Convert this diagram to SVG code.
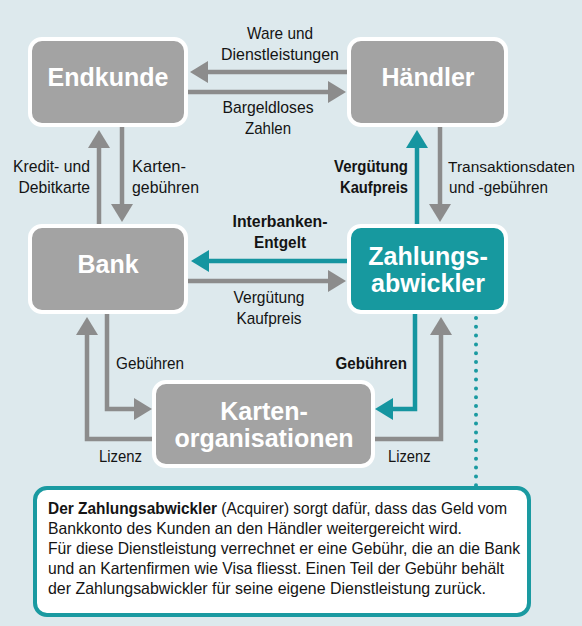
<svg xmlns="http://www.w3.org/2000/svg" width="582" height="626" viewBox="0 0 582 626">
<style>
.bg{fill:#dde9ed}
.box{fill:#a3a3a3;stroke:#ffffff;stroke-width:4}
.tbox{fill:#17999f;stroke:#ffffff;stroke-width:4}
.nt{font-family:"Liberation Sans",Arial,sans-serif;font-weight:bold;font-size:25px;fill:#ffffff;text-anchor:middle}
.lb{font-family:"Liberation Sans",Arial,sans-serif;font-size:17px;fill:#141414}
.lbb{font-family:"Liberation Sans",Arial,sans-serif;font-size:17px;font-weight:bold;fill:#141414}
.c{text-anchor:middle}
.e{text-anchor:end}
.g{fill:none;stroke:#8c8c8c;stroke-width:4.5}
.t{fill:none;stroke:#1595a0;stroke-width:4.5}
.dot{fill:none;stroke:#1a9aa1;stroke-width:4;stroke-linecap:round;stroke-dasharray:0 8.8}
.desc{fill:#ffffff;stroke:#1a9aa1;stroke-width:4}
.dt{font-family:"Liberation Sans",Arial,sans-serif;font-size:16.5px;fill:#141414}
</style>
<defs>
<marker id="ag" markerUnits="userSpaceOnUse" markerWidth="18" markerHeight="22" refX="8" refY="11" orient="auto"><path d="M0,0 L18,11 L0,22 Z" fill="#8c8c8c"/></marker>
<marker id="at" markerUnits="userSpaceOnUse" markerWidth="18" markerHeight="22" refX="8" refY="11" orient="auto"><path d="M0,0 L18,11 L0,22 Z" fill="#1595a0"/></marker>
</defs>
<rect class="bg" x="0" y="0" width="582" height="626"/>
<g id="connectors">
<path class="g" d="M347,72 H200" marker-end="url(#ag)"/>
<path class="g" d="M188,92 H336" marker-end="url(#ag)"/>
<path class="g" d="M99,224 V140" marker-end="url(#ag)"/>
<path class="g" d="M122,127 V212" marker-end="url(#ag)"/>
<path class="t" d="M417,224 V140" marker-end="url(#at)"/>
<path class="g" d="M440,127 V212" marker-end="url(#ag)"/>
<path class="t" d="M347,261 H201" marker-end="url(#at)"/>
<path class="g" d="M188,281 H336" marker-end="url(#ag)"/>
<path class="g" d="M107,313 V409 H142" marker-end="url(#ag)"/>
<path class="g" d="M152,439 H87 V327" marker-end="url(#ag)"/>
<path class="t" d="M415,313 V409 H385" marker-end="url(#at)"/>
<path class="g" d="M375,439 H441 V327" marker-end="url(#ag)"/>
<path class="dot" d="M476,318 V486"/>
<text class="lb c" x="280" y="39" textLength="66" lengthAdjust="spacingAndGlyphs">Ware und</text>
<text class="lb c" x="280" y="60" textLength="118" lengthAdjust="spacingAndGlyphs">Dienstleistungen</text>
<text class="lb c" x="268" y="113" textLength="91" lengthAdjust="spacingAndGlyphs">Bargeldloses</text>
<text class="lb c" x="268" y="134" textLength="46" lengthAdjust="spacingAndGlyphs">Zahlen</text>
<text class="lb e" x="90" y="172" textLength="77" lengthAdjust="spacingAndGlyphs">Kredit- und</text>
<text class="lb e" x="90" y="193" textLength="71.5" lengthAdjust="spacingAndGlyphs">Debitkarte</text>
<text class="lb" x="132" y="172" textLength="54" lengthAdjust="spacingAndGlyphs">Karten-</text>
<text class="lb" x="132" y="193" textLength="67" lengthAdjust="spacingAndGlyphs">gebühren</text>
<text class="lbb e" x="408" y="172" textLength="74" lengthAdjust="spacingAndGlyphs">Vergütung</text>
<text class="lbb e" x="408" y="193" textLength="68" lengthAdjust="spacingAndGlyphs">Kaufpreis</text>
<text class="lb" x="448" y="172" style="font-size:15.5px" textLength="127" lengthAdjust="spacingAndGlyphs">Transaktionsdaten</text>
<text class="lb" x="449" y="193" textLength="99" lengthAdjust="spacingAndGlyphs">und -gebühren</text>
<text class="lbb c" x="280" y="227" textLength="95" lengthAdjust="spacingAndGlyphs">Interbanken-</text>
<text class="lbb c" x="280" y="248" textLength="52" lengthAdjust="spacingAndGlyphs">Entgelt</text>
<text class="lb c" x="269" y="303" textLength="71" lengthAdjust="spacingAndGlyphs">Vergütung</text>
<text class="lb c" x="269" y="324" textLength="65" lengthAdjust="spacingAndGlyphs">Kaufpreis</text>
<text class="lb" x="116" y="369" textLength="68" lengthAdjust="spacingAndGlyphs">Gebühren</text>
<text class="lbb e" x="407" y="369" textLength="71.5" lengthAdjust="spacingAndGlyphs">Gebühren</text>
<text class="lb" x="99" y="462" textLength="43" lengthAdjust="spacingAndGlyphs">Lizenz</text>
<text class="lb" x="388" y="462" textLength="42.5" lengthAdjust="spacingAndGlyphs">Lizenz</text>
</g>
<g id="endkunde">
<rect class="box" x="30" y="39" width="156" height="86" rx="12"/>
<text class="nt" x="108" y="86">Endkunde</text>
</g>
<g id="haendler">
<rect class="box" x="349" y="39" width="157" height="86" rx="12"/>
<text class="nt" x="428" y="86">Händler</text>
</g>
<g id="bank">
<rect class="box" x="30" y="226" width="156" height="86" rx="12"/>
<text class="nt" x="108" y="273">Bank</text>
</g>
<g id="zahlungsabwickler">
<rect class="tbox" x="349" y="226" width="157" height="86" rx="12"/>
<text class="nt" x="428" y="265">Zahlungs-</text>
<text class="nt" x="428" y="292">abwickler</text>
</g>
<g id="kartenorganisationen">
<rect class="box" x="154" y="382" width="219" height="84" rx="12"/>
<text class="nt" x="264" y="420">Karten-</text>
<text class="nt" x="264" y="447">organisationen</text>
</g>
<g id="erklaerung">
<rect class="desc" x="35" y="488" width="494" height="127" rx="12"/>
<text class="dt" x="48" y="514" textLength="459" lengthAdjust="spacingAndGlyphs"><tspan font-weight="bold">Der Zahlungsabwickler</tspan> (Acquirer) sorgt dafür, dass das Geld vom</text>
<text class="dt" x="48" y="534" textLength="414" lengthAdjust="spacingAndGlyphs">Bankkonto des Kunden an den Händler weitergereicht wird.</text>
<text class="dt" x="48" y="554" textLength="472" lengthAdjust="spacingAndGlyphs">Für diese Dienstleistung verrechnet er eine Gebühr, die an die Bank</text>
<text class="dt" x="48" y="574" textLength="456" lengthAdjust="spacingAndGlyphs">und an Kartenfirmen wie Visa fliesst. Einen Teil der Gebühr behält</text>
<text class="dt" x="48" y="594" textLength="438" lengthAdjust="spacingAndGlyphs">der Zahlungsabwickler für seine eigene Dienstleistung zurück.</text>
</g>
</svg>
